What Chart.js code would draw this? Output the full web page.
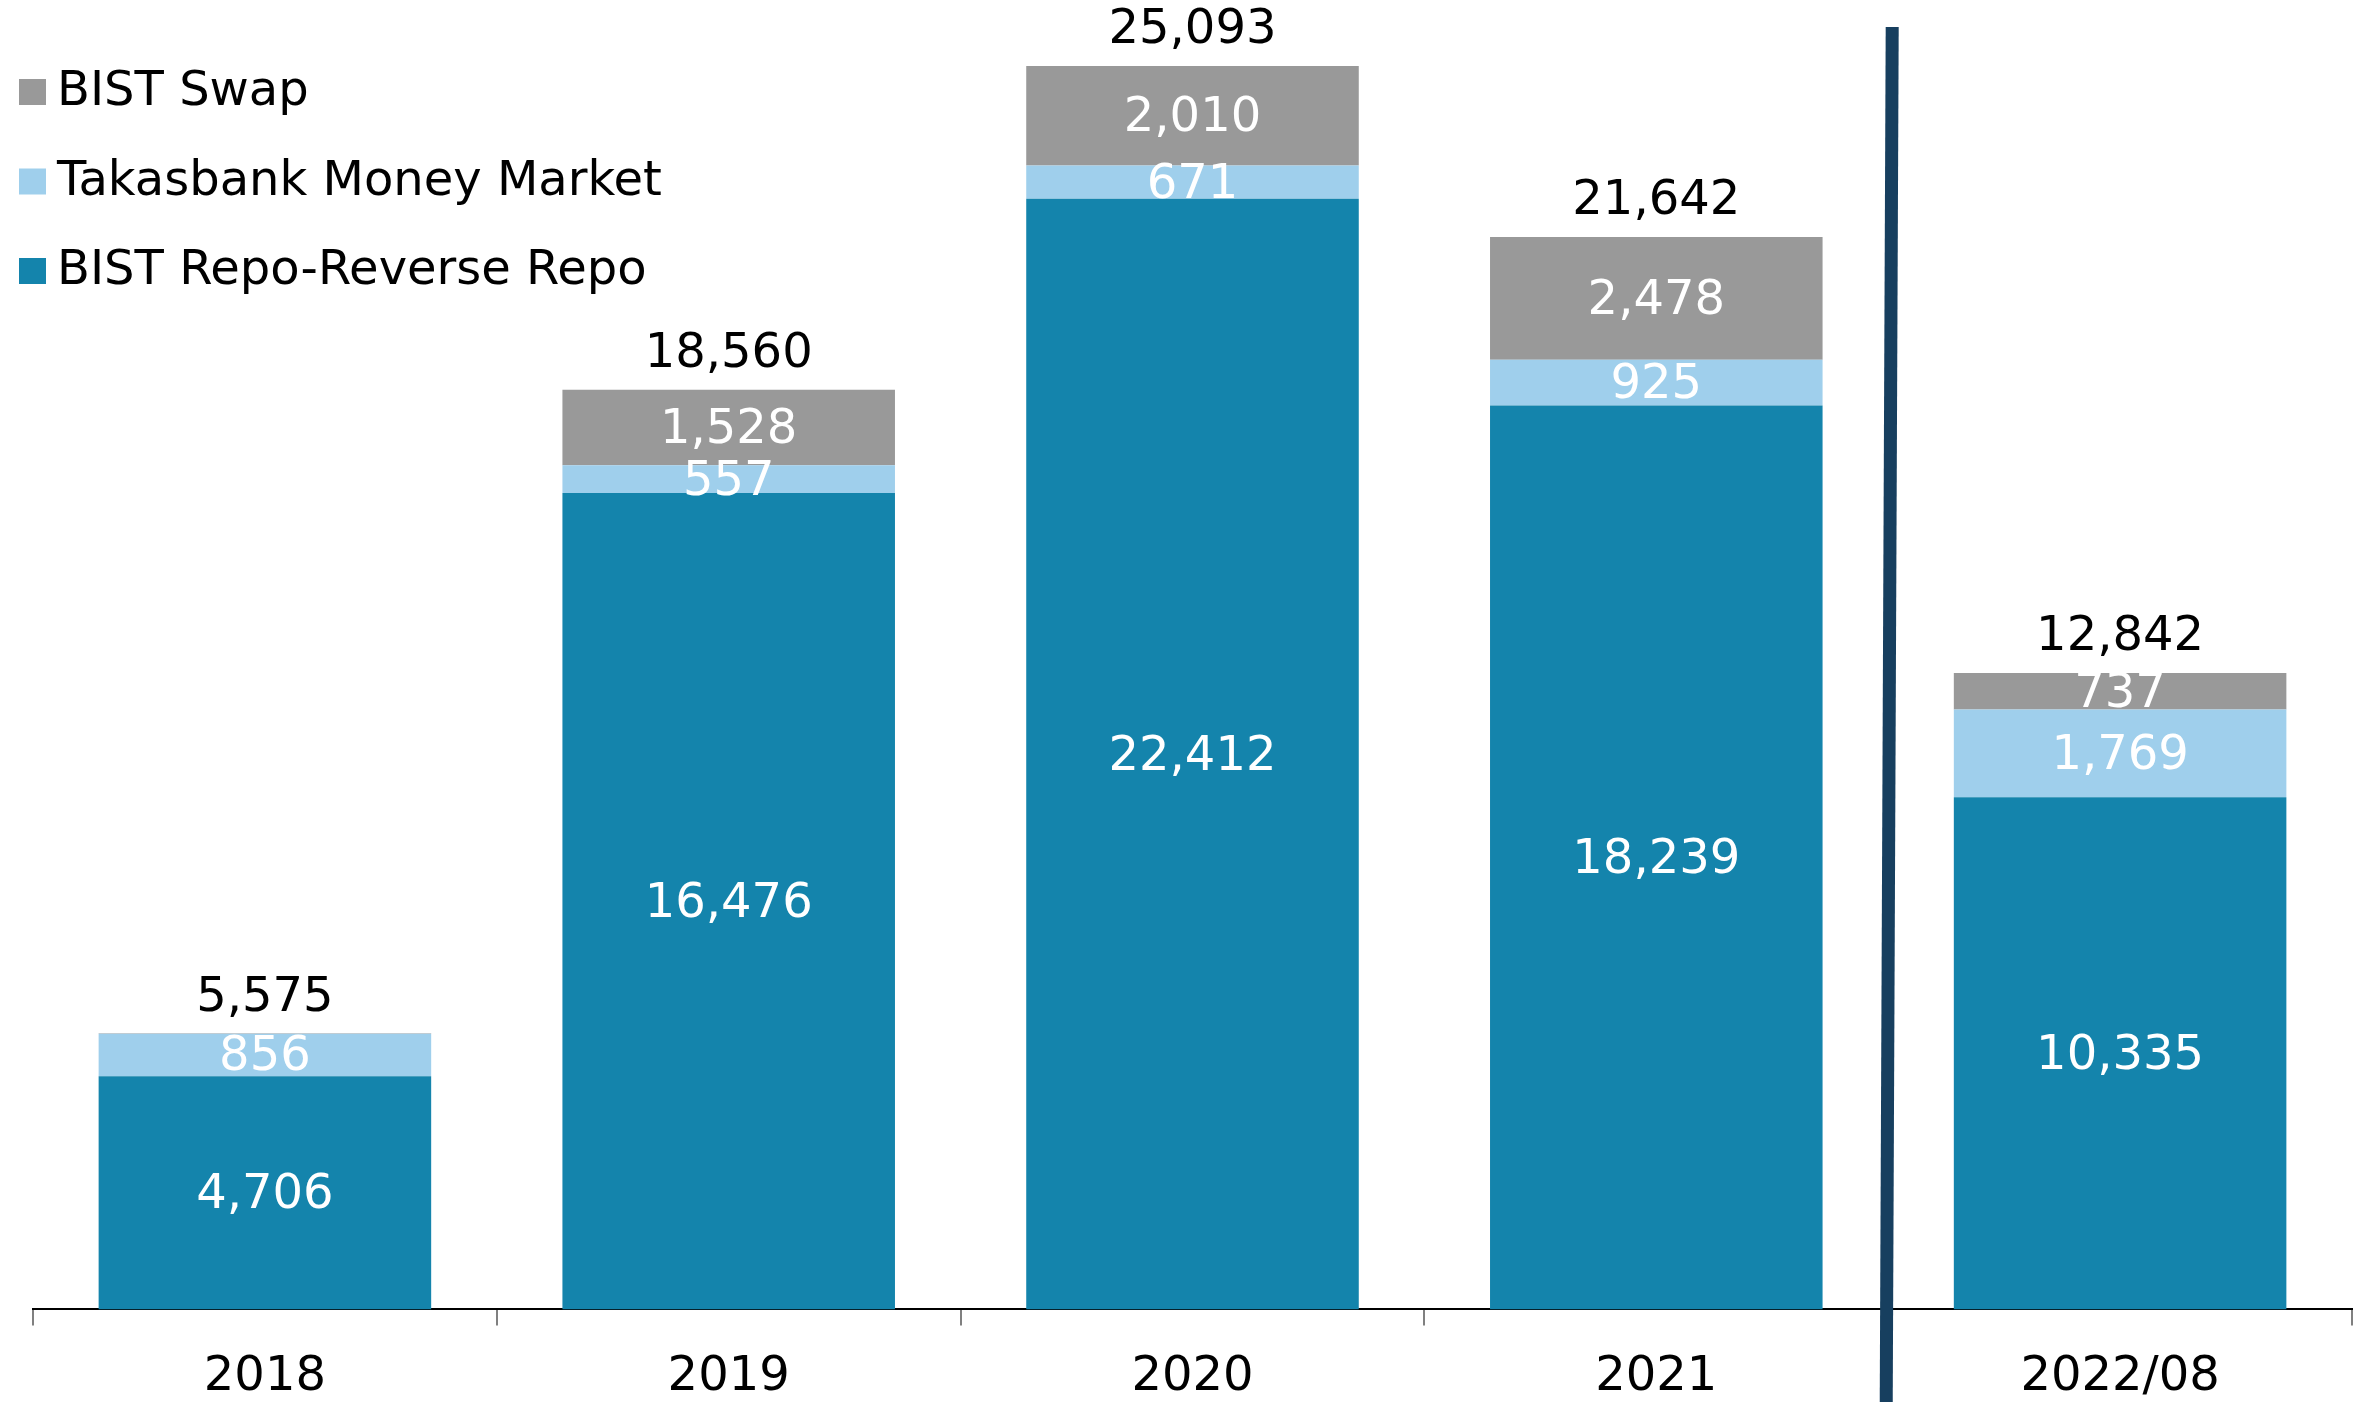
<!DOCTYPE html>
<html lang="en">
<head>
  <meta charset="UTF-8">
  <title>BIST Money Markets</title>
  <script src="https://cdn.jsdelivr.net/npm/chart.js"></script>
  <style>
    html, body { margin: 0; padding: 0; background: #fff; }
    .chart-wrap { width: 2359px; height: 1402px; position: relative; }
  </style>
</head>
<body>
  <div class="chart-wrap">
    <canvas id="mainChart"></canvas>
  </div>

  <script>
    // Chart data
    const categories = ['2018', '2019', '2020', '2021', '2022/08'];
    const repoValues = [4706, 16476, 22412, 18239, 10335];
    const takasbankValues = [856, 557, 671, 925, 1769];
    const swapValues = [13, 1528, 2010, 2478, 737];
    const totalValues = [5575, 18560, 25093, 21642, 12842];

    const FONT = 'DejaVu Sans, Verdana, sans-serif';
    const FONT_SIZE = 48;

    const fmt = v => v.toLocaleString('en-US');

    // value labels inside segments + totals above the bars
    const valueLabels = {
      id: 'valueLabels',
      afterDatasetsDraw(chart) {
        const ctx = chart.ctx;
        ctx.save();
        ctx.font = FONT_SIZE + 'px ' + FONT;
        ctx.textAlign = 'center';
        ctx.textBaseline = 'middle';
        chart.data.datasets.forEach((ds, i) => {
          const meta = chart.getDatasetMeta(i);
          meta.data.forEach((bar, j) => {
            const v = ds.data[j];
            if (!v || v < 300) return;
            ctx.fillStyle = '#ffffff';
            ctx.fillText(fmt(v), bar.x, (bar.y + bar.base) / 2 + 3);
          });
        });
        const yScale = chart.scales.y;
        const xScale = chart.scales.x;
        ctx.fillStyle = '#000000';
        totalValues.forEach((t, j) => {
          ctx.fillText(fmt(t), xScale.getPixelForValue(j), yScale.getPixelForValue(t) - 35);
        });
        ctx.restore();
      }
    };

    // separator between full years and the partial year, plus the legend
    const extras = {
      id: 'extras',
      afterDraw(chart) {
        const ctx = chart.ctx;
        const xScale = chart.scales.x;
        const xm = xScale.getPixelForValue(3.5);
        ctx.save();
        ctx.strokeStyle = '#173f5f';
        ctx.lineWidth = 13;
        ctx.beginPath();
        ctx.moveTo(xm + 4, 27);
        ctx.lineTo(xm - 2, chart.height);
        ctx.stroke();

        // legend, top-left, in reverse dataset order
        ctx.font = FONT_SIZE + 'px ' + FONT;
        ctx.textAlign = 'left';
        ctx.textBaseline = 'middle';
        const order = chart.data.datasets.slice().reverse();
        order.forEach((ds, k) => {
          const cy = 92 + k * 89.5;
          ctx.fillStyle = ds.backgroundColor;
          ctx.fillRect(19, cy - 13, 27, 26);
          ctx.fillStyle = '#000000';
          ctx.fillText(ds.label, 57, cy + 1);
        });
        ctx.restore();
      }
    };

    const ctx = document.getElementById('mainChart').getContext('2d');
    new Chart(ctx, {
      type: 'bar',
      data: {
        labels: categories,
        datasets: [
          { label: 'BIST Repo-Reverse Repo', data: repoValues, backgroundColor: '#1484ac' },
          { label: 'Takasbank Money Market', data: takasbankValues, backgroundColor: '#9fcfec' },
          { label: 'BIST Swap', data: swapValues, backgroundColor: '#999999' }
        ]
      },
      options: {
        responsive: true,
        maintainAspectRatio: false,
        devicePixelRatio: 1,
        animation: false,
        layout: { padding: { left: 33, right: 7, top: 21, bottom: -27 } },
        datasets: { bar: { categoryPercentage: 1, barPercentage: 0.717 } },
        plugins: {
          legend: { display: false },
          tooltip: { enabled: false }
        },
        scales: {
          x: {
            stacked: true,
            offset: true,
            grid: { offset: true, drawOnChartArea: false, tickLength: 16, color: '#808080', lineWidth: 2 },
            border: { color: '#000000', width: 2 },
            ticks: { color: '#000000', padding: 23, font: { family: FONT, size: FONT_SIZE } }
          },
          y: {
            stacked: true,
            display: false,
            min: 0,
            max: 26000
          }
        }
      },
      plugins: [valueLabels, extras]
    });
  </script>
</body>
</html>
